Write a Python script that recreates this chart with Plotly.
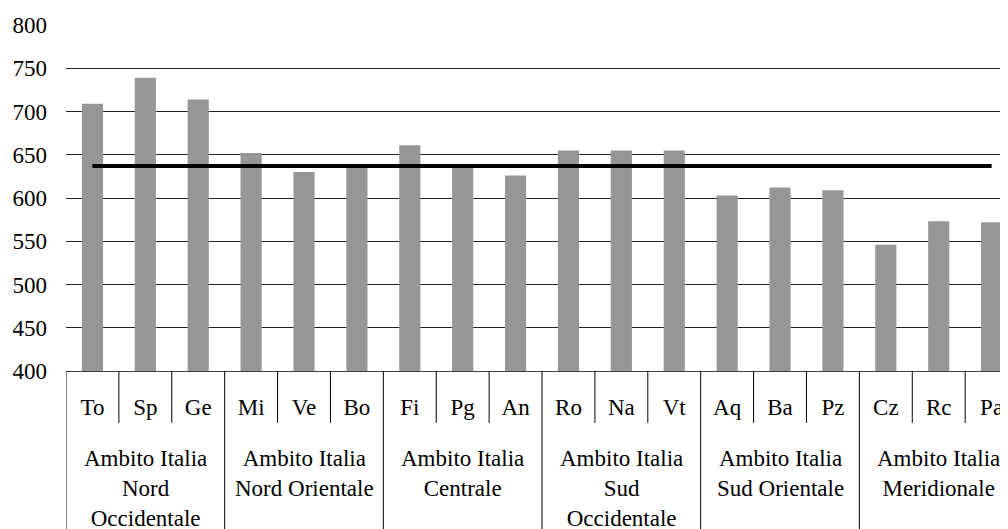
import plotly.graph_objects as go

cities = ["To", "Sp", "Ge", "Mi", "Ve", "Bo", "Fi", "Pg", "An",
          "Ro", "Na", "Vt", "Aq", "Ba", "Pz", "Cz", "Rc", "Pa"]
values = [709, 739, 714, 652, 630, 636, 661, 636, 626,
          655, 655, 655, 603, 612, 609, 546, 573, 572]
groups = ["Ambito Italia<br>Nord<br>Occidentale",
          "Ambito Italia<br>Nord Orientale",
          "Ambito Italia<br>Centrale",
          "Ambito Italia<br>Sud<br>Occidentale",
          "Ambito Italia<br>Sud Orientale",
          "Ambito Italia<br>Meridionale"]
group_size = 3
average = 637
y_ticks = [400, 450, 500, 550, 600, 650, 700, 750, 800]

FONT = "Liberation Serif"
FS = 23

fig = go.Figure()
fig.add_trace(go.Bar(x=cities, y=values, marker=dict(color="#969696", line=dict(width=0)),
                     showlegend=False, hoverinfo="x+y"))
fig.add_trace(go.Scatter(x=cities, y=[average] * len(cities), mode="lines",
                         line=dict(color="black", width=4.2), showlegend=False))

shapes = []
n = len(cities)
for i in range(n + 1):
    is_group = (i % group_size == 0)
    shapes.append(dict(type="line", xref="x", yref="paper",
                       x0=i - 0.5, x1=i - 0.5, y0=0,
                       y1=-0.6 if is_group else -0.15,
                       line=dict(color="black", width=1)))

annotations = []
for g, label in enumerate(groups):
    center = g * group_size + (group_size - 1) / 2
    annotations.append(dict(xref="x", yref="paper", x=center, y=-0.21,
                            yanchor="top", xanchor="center", showarrow=False,
                            text=label, font=dict(family=FONT, size=FS, color="black")))

fig.update_layout(
    width=1000, height=521,
    margin=dict(l=58, r=0, t=17, b=158),
    paper_bgcolor="white", plot_bgcolor="white",
    font=dict(family=FONT, size=FS, color="black"),
    bargap=0.6,
    shapes=shapes, annotations=annotations,
    xaxis=dict(type="category", range=[-0.5, n - 0.69], showgrid=False,
               showline=True, linecolor="#404040", linewidth=1,
               ticks="", ticklabelstandoff=15,
               tickfont=dict(family=FONT, size=FS, color="black"), fixedrange=True),
    yaxis=dict(range=[400, 800], tickvals=y_ticks, showgrid=False,
               showline=False, zeroline=False, ticks="", ticklabelstandoff=18,
               tickfont=dict(family=FONT, size=FS, color="black"),
               minor=dict(tickvals=y_ticks[1:-1], showgrid=True,
                          gridcolor="#222222", gridwidth=1, ticks=""),
               fixedrange=True),
)

fig.write_html("out.html")
